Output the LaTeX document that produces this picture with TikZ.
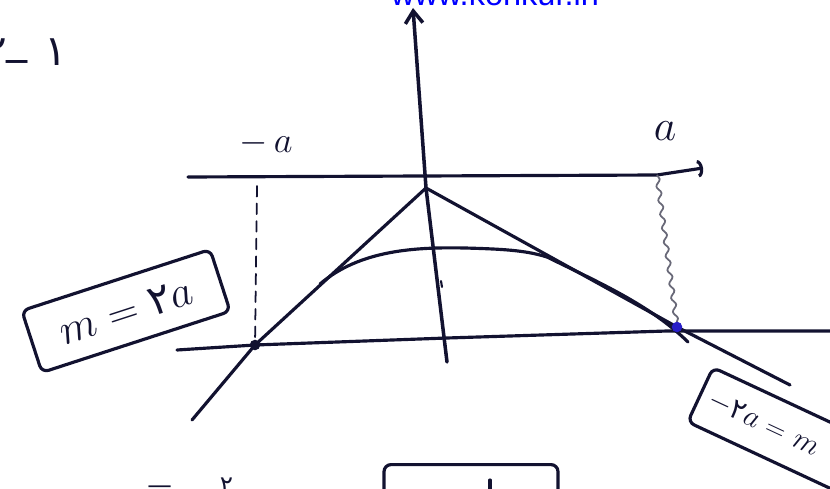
\documentclass[tikz,border=0pt]{standalone}
\usepackage{fontspec}
\usetikzlibrary{arrows.meta,decorations.pathmorphing}
\newfontfamily\fafont[Script=Arabic]{DejaVu Sans}
\newfontfamily\webfont{Liberation Sans}
\definecolor{sketchInk}{RGB}{18,18,48}
\definecolor{sketchBlue}{RGB}{40,30,200}
\definecolor{sketchGray}{RGB}{105,105,120}
\definecolor{sketchWeb}{RGB}{0,0,255}

\begin{document}
\begin{tikzpicture}[x=0.02cm, y=-0.02cm,
    ink/.style={draw=sketchInk, line width=1.8pt, line cap=round, line join=round},
    tag/.style={rectangle, rounded corners=4pt, draw=sketchInk,
                line width=1.8pt, inner sep=0pt, text=sketchInk},
    hand/.style={text=sketchInk, inner sep=0pt}
  ]
  \useasboundingbox (0,0) rectangle (830,489);

  \node[anchor=base, text=sketchWeb, font=\webfont\fontsize{18.5}{20}\selectfont] (web) at (495,6) {www.konkur.in};

  % points of the sketch
  \coordinate (ytop) at (413,8);
  \coordinate (apex) at (426,188);
  \coordinate (ybot) at (447,362);
  \coordinate (xl)   at (188,177);
  \coordinate (xa)   at (657,175);
  \coordinate (xr)   at (703,168);
  \coordinate (bl)   at (177,350);
  \coordinate (bm)   at (447,338);
  \coordinate (bk)   at (667,331);
  \coordinate (br)   at (830,331);
  \coordinate (pl)   at (255,345);
  \coordinate (pr)   at (677,327);
  \coordinate (ll)   at (192,420);
  \coordinate (rr)   at (790,385);
  \coordinate (dt)   at (257,186);
  \coordinate (cl)   at (320,284);
  \coordinate (cp)   at (465,248);
  \coordinate (cr)   at (547,257);
  \coordinate (ce)   at (688,342);

  \draw[ink, line width=2pt, -{Straight Barb[length=7pt,width=10pt]}] (ybot) -- (apex) -- (ytop);
  \draw[ink, -{Arc Barb[length=3pt,width=10pt]}] (xl) -- (xa) -- (xr);
  \draw[ink] (bl) -- (pl) -- (bm) -- (bk) -- (br);
  \draw[ink] (ll) -- (pl) -- (apex) -- (pr) -- (rr);
  \draw[ink] (cl) .. controls (360,250) and (415,247) .. (cp)
             .. controls (500,249) and (525,250) .. (cr)
             .. controls (600,283) and (650,305) .. (ce);
  \draw[ink, line width=1pt, dash pattern=on 6pt off 4pt] (dt) -- (pl);
  \draw[sketchGray, line width=1pt, decorate,
        decoration={snake, amplitude=1.2pt, segment length=8pt}] (xa) -- (pr);
  \fill[sketchInk] (pl) circle (3pt);
  \fill[sketchBlue] (pr) circle (3pt);
  \draw[ink, line width=1.2pt] (441,281) -- (442,287);

  % labels
  \node[hand, font=\fontsize{22}{24}\selectfont] (mina) at (266,143) {$-\,a$};
  \node[hand, font=\fontsize{28}{30}\selectfont] (plusa) at (665,131) {$a$};
  \node[hand, anchor=base west, font=\fafont\fontsize{24}{26}\selectfont] (num) at (-16,66)
    {۲\raisebox{0.3em}{\_}\hspace{0.4em}۱};
  \node[hand, anchor=base west, font=\fafont\fontsize{14}{16}\selectfont] (numb) at (147,493)
    {—\hspace{1.95em}۲};

  % boxed results
  \node[tag, rotate=18, minimum width=3.96cm, minimum height=1.3cm,
        font=\fontsize{24}{26}\selectfont] (lbox) at (126,311) {$m$ = {\fafont ۲}$a$};
  \node[tag, rotate=-25, minimum height=1.2cm, inner xsep=0.2cm, text width=3.6cm, align=left,
        font=\fontsize{16}{18}\selectfont] (rbox) at (791,437) {$-${\fafont ۲}$a$ = $m$};
  \node[tag, anchor=north, minimum width=3.48cm, minimum height=1.2cm] (bbox) at (471,463) {};
  \draw[ink] (490,480) -- (490,495);
\end{tikzpicture}
\end{document}
